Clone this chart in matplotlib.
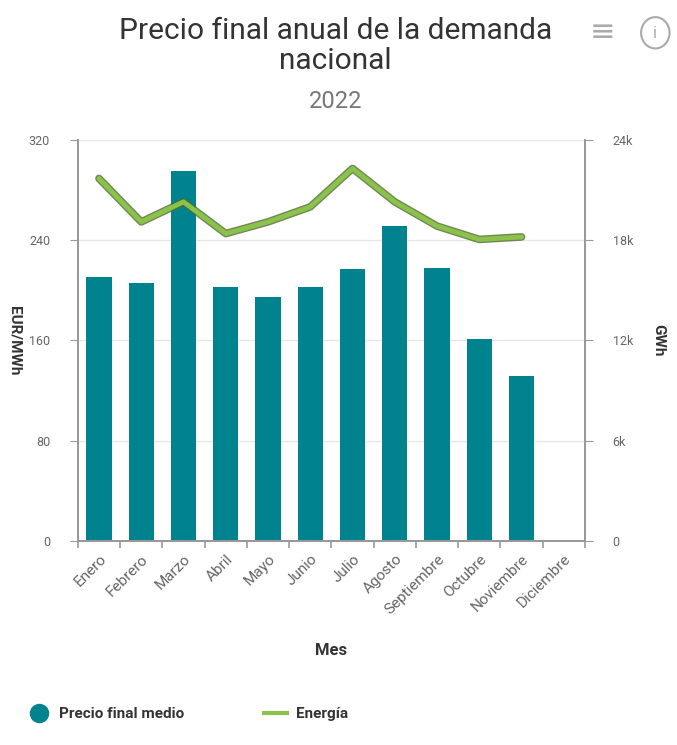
import matplotlib
matplotlib.use("Agg")
import matplotlib.pyplot as plt
from matplotlib.lines import Line2D
from matplotlib.patches import Circle

plt.rcParams["font.family"] = ["Roboto", "DejaVu Sans"]

meses = ["Enero", "Febrero", "Marzo", "Abril", "Mayo", "Junio", "Julio",
         "Agosto", "Septiembre", "Octubre", "Noviembre", "Diciembre"]
precio = [211, 206, 295, 203, 195, 203, 217, 251, 218, 161, 132, None]
energia = [21700, 19100, 20300, 18400, 19100, 20000, 22300, 20300, 18850, 18050, 18200, None]

TEAL = "#00838f"
GREEN = "#8bc34a"
GRAY = "#666666"

fig = plt.figure(figsize=(6.77, 7.45), dpi=100)
ax = fig.add_axes([0.115, 0.274, 0.749, 0.538])
ax2 = ax.twinx()

x = list(range(len(meses)))
px = [i for i, v in zip(x, precio) if v is not None]
pv = [v for v in precio if v is not None]
ax.bar(px, pv, width=0.6, color=TEAL, zorder=2)

ex = [i for i, v in zip(x, energia) if v is not None]
ev = [v for v in energia if v is not None]
ax2.plot(ex, ev, color="#4e6b2a", lw=5.5, solid_capstyle="round", zorder=3, alpha=0.8)
ax2.plot(ex, ev, color=GREEN, lw=3.5, solid_capstyle="round", zorder=4)

ax.set_xlim(-0.5, 11.5)
ax.set_ylim(0, 320)
ax2.set_ylim(0, 24000)
ax.set_yticks([0, 80, 160, 240, 320])
ax2.set_yticks([0, 6000, 12000, 18000, 24000])
ax2.set_yticklabels(["0", "6k", "12k", "18k", "24k"])
ax.set_xticks([i - 0.5 for i in range(13)], minor=False)
ax.set_xticklabels([])
ax.set_xticks(x, minor=True)
ax.set_xticklabels(meses, minor=True, rotation=45, ha="right", rotation_mode="anchor",
                   color=GRAY, fontsize=11)
ax.tick_params(axis="x", which="minor", length=0, pad=8)
ax.tick_params(axis="x", which="major", length=5, color="#999999", width=1.2)

ax.grid(axis="y", color="#e6e6e6", lw=1, zorder=0)
ax.set_axisbelow(True)
for a in (ax, ax2):
    a.spines["top"].set_visible(False)
    for s in ("left", "right", "bottom"):
        a.spines[s].set_color("#999999")
        a.spines[s].set_linewidth(1.3)
ax.tick_params(axis="y", length=6, color="#999999", labelcolor=GRAY, labelsize=9, pad=14)
ax2.tick_params(axis="y", length=6, color="#999999", labelcolor=GRAY, labelsize=9, pad=14)

ax.set_ylabel("EUR/MWh", rotation=-90, fontsize=11, fontweight="bold", color="#333333",
              va="center")
ax.yaxis.set_label_coords(-0.125, 0.5)
ax2.set_ylabel("GWh", rotation=-90, fontsize=11, fontweight="bold", color="#333333", va="center")
ax2.yaxis.set_label_coords(1.145, 0.5)
ax.set_xlabel("Mes", fontsize=12, fontweight="bold", color="#333333")
ax.xaxis.set_label_coords(0.5, -0.255)

fig.text(0.496, 0.958, "Precio final anual de la demanda", ha="center", va="center",
         fontsize=21.5, color="#333333")
fig.text(0.496, 0.918, "nacional", ha="center", va="center", fontsize=21.5, color="#333333")
fig.text(0.496, 0.864, "2022", ha="center", va="center", fontsize=17, color="#777777")
fig.text(0.89, 0.956, "\u2261", ha="center", va="center", fontsize=22, color="#aaaaaa")
# info icon
fig.patches.append(Circle((0.968, 0.956), 0.021, transform=fig.transFigure,
                          fill=False, edgecolor="#aaaaaa", lw=1.5))
fig.text(0.968, 0.955, "i", ha="center", va="center", fontsize=12, color="#aaaaaa")

handles = [
    Line2D([], [], marker="o", ls="", markersize=13, markerfacecolor=TEAL, markeredgecolor=TEAL),
    Line2D([], [], color=GREEN, lw=3),
]
fig.legend(handles, ["Precio final medio", "Energía"], loc="center left",
           bbox_to_anchor=(0.02, 0.041), ncol=2, frameon=False, handlelength=1.5,
           columnspacing=5.2, handletextpad=0.6,
           prop={"weight": "bold", "size": 11}, labelcolor="#333333")

fig.savefig("out.png", dpi=100)
